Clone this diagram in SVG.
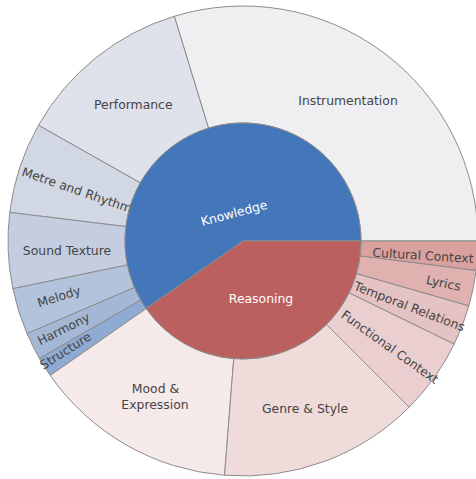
<svg xmlns="http://www.w3.org/2000/svg" width="476" height="479" viewBox="0 0 476 479">
<style>
.s{stroke:#8c8c8c;stroke-width:1;stroke-linejoin:round}
.t{font-family:"DejaVu Sans",Verdana,sans-serif;font-size:12.4px;fill:#444;text-anchor:middle}
.w{fill:#fff}
</style>
<rect width="476" height="479" fill="#fff"/>
<g id="sectors">
<g id="instrumentation"><path class="s" fill="#efeff2" d="M361,241 L478,241 A235,235 0 0 0 174.29,16.27 L208.5,128.16 A118,118 0 0 1 361,241 Z"/><text class="t" x="348" y="105">Instrumentation</text></g>
<g id="performance"><path class="s" fill="#dfe2ea" d="M208.5,128.16 L174.29,16.27 A235,235 0 0 0 38.47,125.28 L140.3,182.89 A118,118 0 0 1 208.5,128.16 Z"/><text class="t" x="133.3" y="109">Performance</text></g>
<g id="metre"><path class="s" fill="#d2d8e3" d="M140.3,182.89 L38.47,125.28 A235,235 0 0 0 9.75,212.36 L125.88,226.62 A118,118 0 0 1 140.3,182.89 Z"/><text class="t" transform="translate(77,190) rotate(19)" y="4.4">Metre and Rhythm</text></g>
<g id="sound-texture"><path class="s" fill="#c4cee0" d="M125.88,226.62 L9.75,212.36 A235,235 0 0 0 12.88,288.66 L127.45,264.93 A118,118 0 0 1 125.88,226.62 Z"/><text class="t" x="67" y="254.5">Sound Texture</text></g>
<g id="melody"><path class="s" fill="#b3c3db" d="M127.45,264.93 L12.88,288.66 A235,235 0 0 0 27,333.58 L134.54,287.48 A118,118 0 0 1 127.45,264.93 Z"/><text class="t" transform="translate(59,296.5) rotate(-17.5)" y="4.4">Melody</text></g>
<g id="harmony"><path class="s" fill="#a4b8d6" d="M134.54,287.48 L27,333.58 A235,235 0 0 0 39.48,358.5 L140.81,300 A118,118 0 0 1 134.54,287.48 Z"/><text class="t" transform="translate(63.5,329) rotate(-26.6)" y="4.4">Harmony</text></g>
<g id="structure"><path class="s" fill="#8eabd3" d="M140.81,300 L39.48,358.5 A235,235 0 0 0 50.26,375.46 L146.22,308.51 A118,118 0 0 1 140.81,300 Z"/><text class="t" transform="translate(65.5,350.7) rotate(-32.5)" y="4.4">Structure</text></g>
<g id="mood"><path class="s" fill="#f6e9e9" d="M146.22,308.51 L50.26,375.46 A235,235 0 0 0 224.56,475.28 L233.74,358.64 A118,118 0 0 1 146.22,308.51 Z"/><text class="t" x="155.5" y="393">Mood &amp;</text><text class="t" x="155" y="408.5">Expression</text></g>
<g id="genre"><path class="s" fill="#f0dbdb" d="M233.74,358.64 L224.56,475.28 A235,235 0 0 0 409.17,407.17 L326.44,324.44 A118,118 0 0 1 233.74,358.64 Z"/><text class="t" x="305" y="413">Genre &amp; Style</text></g>
<g id="functional"><path class="s" fill="#ebcfd0" d="M326.44,324.44 L409.17,407.17 A235,235 0 0 0 454.22,344.02 L349.06,292.73 A118,118 0 0 1 326.44,324.44 Z"/><text class="t" transform="translate(390,347) rotate(35.5)" y="4.4">Functional Context</text></g>
<g id="temporal"><path class="s" fill="#e5c3c3" d="M349.06,292.73 L454.22,344.02 A235,235 0 0 0 468.9,305.78 L356.43,273.53 A118,118 0 0 1 349.06,292.73 Z"/><text class="t" transform="translate(409.5,306.5) rotate(21)" y="4.4">Temporal Relations</text></g>
<g id="lyrics"><path class="s" fill="#dfb2b0" d="M356.43,273.53 L468.9,305.78 A235,235 0 0 0 476.15,270.45 L360.07,255.79 A118,118 0 0 1 356.43,273.53 Z"/><text class="t" transform="translate(443.5,283) rotate(11.6)" y="4.4">Lyrics</text></g>
<g id="cultural"><path class="s" fill="#d9a29f" d="M360.07,255.79 L476.15,270.45 A235,235 0 0 0 478,241 L361,241 A118,118 0 0 1 360.07,255.79 Z"/><text class="t" transform="translate(423,255.5) rotate(3.6)" y="4.4">Cultural Context</text></g>
<g id="knowledge"><path class="s" fill="#4377b9" d="M243,241 L361,241 A118,118 0 1 0 146.22,308.51 Z"/><text class="t w" transform="translate(234,213) rotate(-15)" y="4.4">Knowledge</text></g>
<g id="reasoning"><path class="s" fill="#bb605e" d="M243,241 L146.22,308.51 A118,118 0 0 0 361,241 Z"/><text class="t w" x="261" y="303">Reasoning</text></g>
</g>
<g id="connectors"/>
</svg>
